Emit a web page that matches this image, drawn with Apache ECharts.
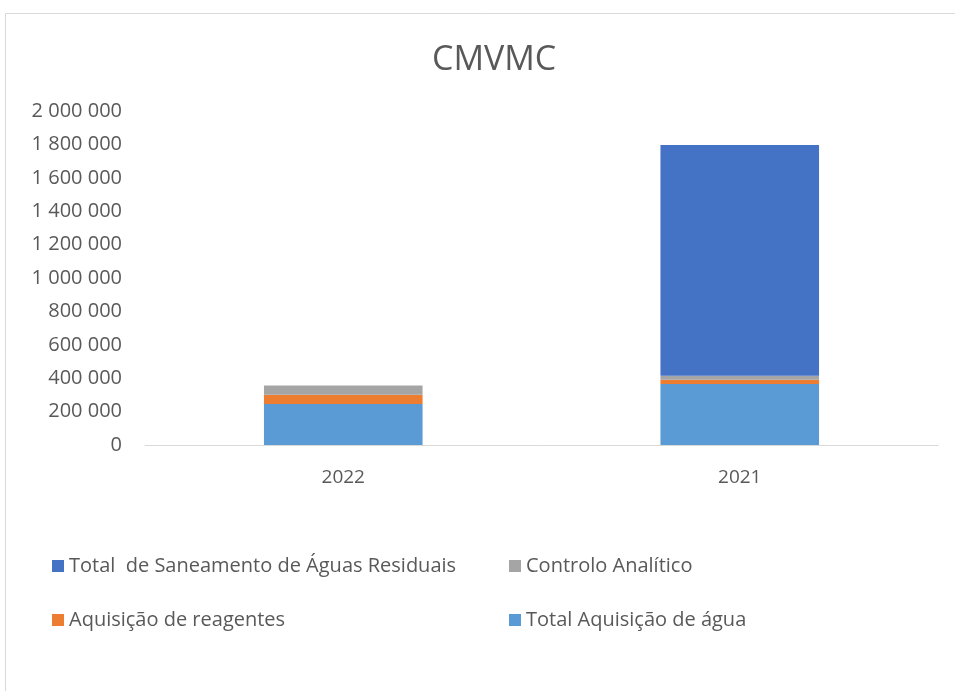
<!DOCTYPE html>
<html><head><meta charset="utf-8">
<script src="https://cdn.jsdelivr.net/npm/echarts@6/dist/echarts.min.js"></script>
<style>html,body{margin:0;padding:0;background:#fff}#c{width:955px;height:691px}</style>
</head><body><div id="c"></div>
<script>
const categories = ['2022', '2021'];
const aquisicaoAgua = [246000, 366000];
const reagentes = [55000, 24000];
const controlo = [56000, 24000];
const saneamento = [0, 1382000];
const yTicks = { min: 0, max: 2000000, interval: 200000 };

const FONT = 'Open Sans';
const chart = echarts.init(document.getElementById('c'));
function fmt(v){ return String(v).replace(/\B(?=(\d{3})+(?!\d))/g, ' '); }
function lg(name, left, top){
  return { show:true, data:[name], left:left, top:top, itemWidth:12, itemHeight:12, icon:'rect',
    textStyle:{ fontFamily:FONT, fontSize:20, color:'#595959' }, itemGap:0 };
}
const bar = (name, data, color) => ({ name, type:'bar', stack:'s', data, barCategoryGap:'60%',
  itemStyle:{ color }, emphasis:{disabled:true} });
chart.setOption({
  animation:false,
  graphic:[{ type:'rect', shape:{ x:5.5, y:13.5, width:960, height:700 }, style:{ fill:'none', stroke:'#d9d9d9', lineWidth:1 } }],
  title:{ text:'CMVMC', left:427, top:38, textStyle:{ fontFamily:FONT, fontSize:34, fontWeight:'normal', color:'#595959' } },
  grid:{ left:145, right:17, top:111, bottom:246, containLabel:false },
  legend:[
    lg('Total  de Saneamento de Águas Residuais', 47, 551),
    lg('Controlo Analítico', 504, 551),
    lg('Aquisição de reagentes', 47, 605),
    lg('Total Aquisição de água', 504, 605)
  ],
  xAxis:{ type:'category', data:categories, axisTick:{show:false},
    axisLine:{ lineStyle:{ color:'#d9d9d9', width:1 } },
    axisLabel:{ fontFamily:FONT, fontSize:19, color:'#595959', margin:23 } },
  yAxis:{ type:'value', min:yTicks.min, max:yTicks.max, interval:yTicks.interval,
    splitLine:{show:false}, axisLine:{show:false}, axisTick:{show:false},
    axisLabel:{ fontFamily:FONT, fontSize:20, color:'#595959', margin:23, formatter:fmt } },
  series:[
    bar('Total Aquisição de água', aquisicaoAgua, '#5B9BD5'),
    bar('Aquisição de reagentes', reagentes, '#ED7D31'),
    bar('Controlo Analítico', controlo, '#A5A5A5'),
    bar('Total  de Saneamento de Águas Residuais', saneamento, '#4472C4')
  ]
});
</script></body></html>
